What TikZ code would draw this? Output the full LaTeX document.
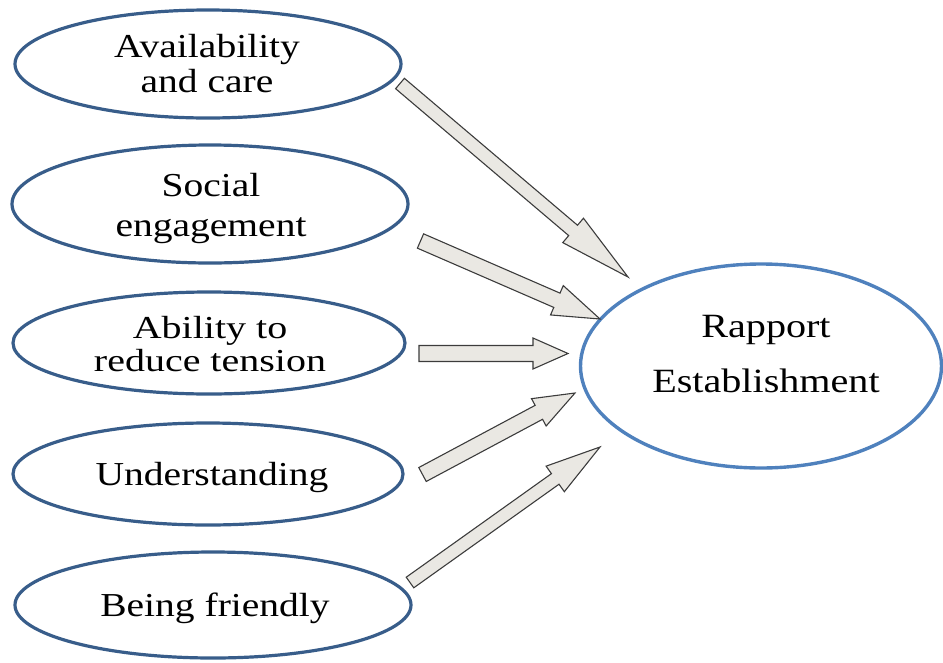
\documentclass[tikz,border=0pt]{standalone}
\usepackage{fontspec}
\setmainfont{Liberation Serif}[FakeStretch=1.18]
\newfontfamily\widefont{Liberation Serif}[FakeStretch=1.25]
\usetikzlibrary{shapes.geometric,calc}
\definecolor{leftblue}{HTML}{385D8A}
\definecolor{rightblue}{HTML}{4F81BD}
\definecolor{arrfill}{HTML}{EAE8E3}
\definecolor{arrline}{HTML}{3C3C3C}
\tikzset{
  oval/.style={ellipse, draw=leftblue, line width=3.2pt, inner sep=0pt},
  bigoval/.style={ellipse, draw=rightblue, line width=3.4pt, inner sep=0pt},
  lbl/.style={align=center, inner sep=0pt, font=\fontsize{33.5}{35}\selectfont},
  biglbl/.style={align=center, inner sep=0pt, font=\fontsize{34}{55}\selectfont},
  blockarr/.style={draw=arrline, fill=arrfill, line width=1.1pt, line join=miter},
}
% #1 tail, #2 tip, #3 shaft half width, #4 head half width, #5 head length
\newcommand{\blockarrow}[5]{%
  \coordinate (ba-h) at ($(#2)!#5!(#1)$);
  \draw[blockarr] ($(#1)!#3!90:(#2)$) -- ($(ba-h)!#3!90:(#2)$) -- ($(ba-h)!#4!90:(#2)$) -- (#2)
    -- ($(ba-h)!#4!-90:(#2)$) -- ($(ba-h)!#3!-90:(#2)$) -- ($(#1)!#3!-90:(#2)$) -- cycle;
}
\begin{document}
\begin{tikzpicture}[x=1pt,y=-1pt]
\useasboundingbox (0,0) rectangle (943,662);
% ovals
\node[oval, minimum width=386pt, minimum height=108pt] (e1) at (208,64) {};
\node[oval, minimum width=396pt, minimum height=118pt] (e2) at (210,204) {};
\node[oval, minimum width=392pt, minimum height=102pt] (e3) at (209,343) {};
\node[oval, minimum width=390pt, minimum height=102pt] (e4) at (208,474) {};
\node[oval, minimum width=396pt, minimum height=106pt] (e5) at (213,605) {};
\node[bigoval, minimum width=361pt, minimum height=204pt] (r) at (761,366) {};
% labels
\node[lbl] (t1) at (207,63.3) {Availability\\and care};
\node[lbl, font=\fontsize{33.5}{40}\selectfont] (t2) at (211,208) {Social\\engagement};
\node[lbl, font=\widefont\fontsize{32}{33}\selectfont] (t3) at (210,344) {Ability to\\reduce tension};
\node[lbl] (t4) at (212,477.4) {Understanding};
\node[lbl] (t5) at (215,608.4) {Being friendly};
\node[biglbl] (tr) at (766,354.3) {Rapport\\Establishment};
% arrow ends
\coordinate (a1s) at (400,83.5);   \coordinate (a1e) at (628,277);
\coordinate (a2s) at (420.5,241);  \coordinate (a2e) at (600,319);
\coordinate (a3s) at (419,353.5);  \coordinate (a3e) at (568,353.5);
\coordinate (a4s) at (422.5,474.5);\coordinate (a4e) at (575,393);
\coordinate (a5s) at (410,582.5);  \coordinate (a5e) at (600,447);
\blockarrow{a1s}{a1e}{6.8pt}{16pt}{72pt}
\blockarrow{a2s}{a2e}{7.8pt}{16pt}{47pt}
\blockarrow{a3s}{a3e}{8pt}{15.5pt}{35pt}
\blockarrow{a4s}{a4e}{7.9pt}{15.5pt}{41pt}
\blockarrow{a5s}{a5e}{6.5pt}{15.7pt}{55pt}
\end{tikzpicture}
\end{document}
